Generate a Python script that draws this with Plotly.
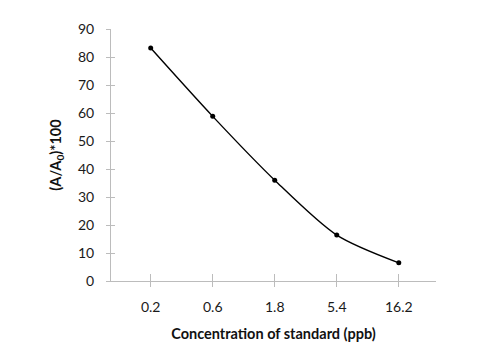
import plotly.graph_objects as go

categories = ["0.2", "0.6", "1.8", "5.4", "16.2"]
values = [83.2, 58.8, 36.0, 16.4, 6.5]
y_ticks = [0, 10, 20, 30, 40, 50, 60, 70, 80, 90]

xpos = list(range(len(categories)))
FONT = "Lato, 'Open Sans', sans-serif"
AX = "#bcbcbc"
xr = [-0.64, 4.6]
yr = [0, 90]

fig = go.Figure()
fig.add_trace(go.Scatter(
    x=xpos, y=values, mode="lines+markers",
    line=dict(color="black", width=1.4, shape="spline", smoothing=0.8),
    marker=dict(color="black", size=5),
    showlegend=False, hoverinfo="skip",
))

fig.update_layout(
    width=480, height=360,
    margin=dict(l=111, r=44, t=29, b=79),
    paper_bgcolor="white", plot_bgcolor="white",
    font=dict(family=FONT, size=14, color="#1a1a1a"),
    xaxis=dict(
        range=xr, tickmode="array", tickvals=xpos, ticktext=categories,
        showgrid=False, zeroline=False, showline=True, linecolor=AX, linewidth=1,
        ticks="outside", ticklen=5, tickcolor=AX, tickwidth=1,
        ticklabelstandoff=8, automargin=False,
        title=dict(text="<b>Concentration of standard (ppb)</b>", font=dict(size=14.5, color="#111"), standoff=15),
    ),
    yaxis=dict(
        range=yr, tickmode="array", tickvals=y_ticks,
        showgrid=False, zeroline=False, showline=True, linecolor=AX, linewidth=1,
        ticks="outside", ticklen=4, tickcolor=AX, tickwidth=1,
        ticklabelstandoff=9, automargin=False,
        title=dict(text="<b>(A/A<sub>0</sub>)*100</b>", font=dict(size=14.5, color="#111"), standoff=12),
    ),
    xaxis2=dict(
        overlaying="x", side="bottom", range=xr, tickmode="array", tickvals=xpos,
        showticklabels=False, showgrid=False, zeroline=False, showline=False,
        ticks="inside", ticklen=7, tickcolor=AX, tickwidth=1, automargin=False,
    ),
    yaxis2=dict(
        overlaying="y", side="left", range=yr, tickmode="array", tickvals=y_ticks,
        showticklabels=False, showgrid=False, zeroline=False, showline=False,
        ticks="inside", ticklen=4, tickcolor=AX, tickwidth=1, automargin=False,
    ),
)
fig.add_trace(go.Scatter(x=[None], y=[None], xaxis="x2", yaxis="y2", showlegend=False, hoverinfo="skip"))

fig.write_html("out.html", config={"displayModeBar": False},
               post_script="document.body.style.margin='0';document.body.style.overflow='hidden';")
